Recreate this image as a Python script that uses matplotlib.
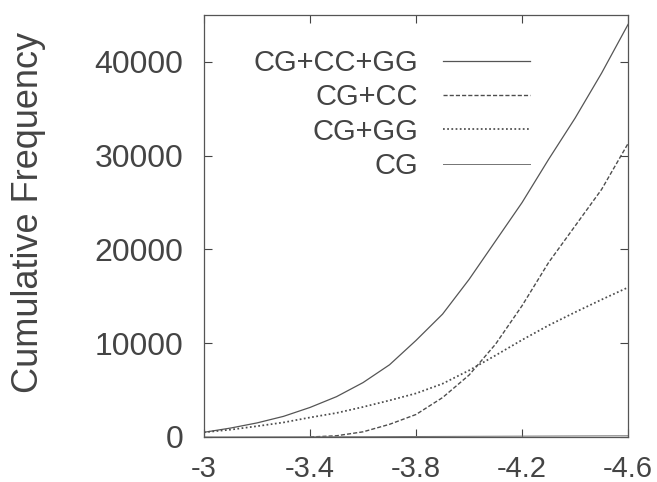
import matplotlib.pyplot as plt

# values
x_grid = [-3.0, -3.1, -3.2, -3.3, -3.4, -3.5, -3.6, -3.7, -3.8,
          -3.9, -4.0, -4.1, -4.2, -4.3, -4.4, -4.5, -4.6]
cg_cc_gg = [500, 950, 1500, 2200, 3150, 4300, 5800, 7700, 10300,
            13100, 16800, 20900, 25000, 29600, 34000, 38800, 44000]
cg_gg = [500, 780, 1150, 1550, 2080, 2560, 3200, 3900, 4650,
         5680, 7100, 8700, 10350, 11900, 13300, 14650, 15950]
cg = [0, 5, 10, 15, 20, 25, 30, 40, 50,
      60, 70, 80, 90, 100, 110, 120, 130]

x_cc = [-3.4, -3.5, -3.6, -3.7, -3.8, -3.9, -4.0, -4.1, -4.2,
        -4.3, -4.4, -4.5, -4.6]
cg_cc = [0, 130, 550, 1350, 2400, 4200, 6600, 9900, 14000,
         18600, 22500, 26400, 31300]

grey = '#444444'
plt.rcParams['font.family'] = ['Liberation Sans', 'DejaVu Sans']
plt.rcParams['text.color'] = grey
plt.rcParams['axes.labelcolor'] = grey

fig = plt.figure(figsize=(6.57, 4.82), dpi=100)
ax = fig.add_axes([0.3105, 0.0934, 0.6455, 0.8755])

lw = 0.9
ax.plot(x_grid, cg_cc_gg, color='#555555', lw=lw, ls='-', label='CG+CC+GG')
ax.plot(x_cc, cg_cc, color='#4d4d4d', lw=lw * 1.1, ls=(0, (3, 1.5)), label='CG+CC')
ax.plot(x_grid, cg_gg, color='#4d4d4d', lw=lw * 1.4, ls=(0, (1, 1.4)), label='CG+GG')
ax.plot(x_grid, cg, color='#777777', lw=lw * 0.8, ls='-', label='CG')

ax.set_xlim(-3, -4.6)
ax.set_ylim(0, 45000)
ax.set_xticks([-3, -3.4, -3.8, -4.2, -4.6])
ax.set_xticklabels(['-3', '-3.4', '-3.8', '-4.2', '-4.6'])
ax.set_yticks([0, 10000, 20000, 30000, 40000])
ax.tick_params(direction='in', top=True, right=True, length=6, width=0.8,
               colors=grey)
ax.tick_params(axis='x', labelsize=21, pad=13)
ax.tick_params(axis='y', labelsize=23, pad=15)
for s in ax.spines.values():
    s.set_color('#555555')
    s.set_linewidth(0.9)

ax.set_ylabel('Cumulative Frequency', fontsize=26)
ax.yaxis.set_label_coords(-0.372, 0.533)

ax.legend(loc='upper right', bbox_to_anchor=(0.769, 0.92), frameon=False,
          markerfirst=False, fontsize=21, borderpad=0, borderaxespad=0,
          handlelength=3.0, handletextpad=0.85, labelspacing=0.22)

fig.savefig('out.png', dpi=100)
